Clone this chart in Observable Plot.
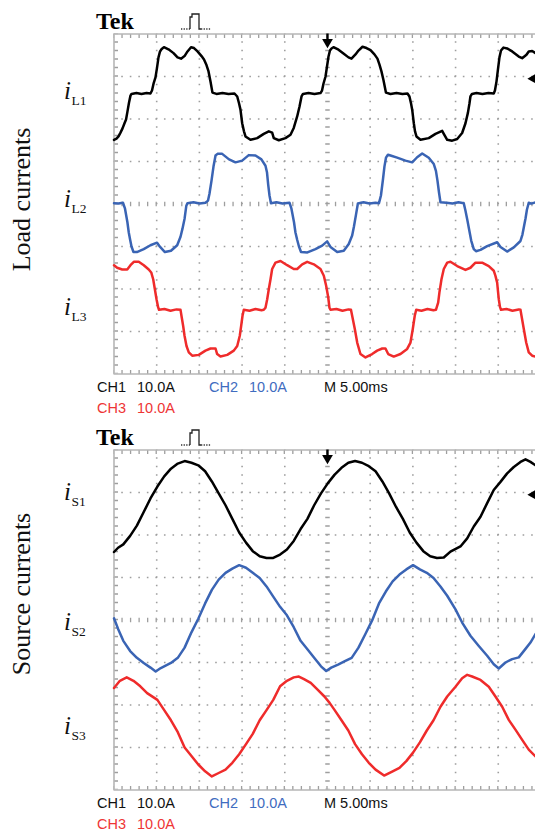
<!DOCTYPE html>
<html>
<head>
<meta charset="utf-8">
<script src="https://cdn.jsdelivr.net/npm/d3@7"></script>
<script src="https://cdn.jsdelivr.net/npm/@observablehq/plot@0.6"></script>
<style>
  html, body { margin: 0; padding: 0; background: #fff; width: 535px; height: 832px; overflow: hidden; }
  #page { position: relative; width: 535px; height: 832px; }
  #page svg { position: absolute; left: 0; }
</style>
</head>
<body>
<div id="page"></div>
<script>
// ---- Scope settings -------------------------------------------------------
const msPerDiv = 5;          // M 5.00ms
const ampsPerDiv = 10;       // 10.0A on every channel
const recordEnd = 49.36;     // ms visible up to the page edge
const channels = ["CH1", "CH2", "CH3"];
const channelScales = ["10.0A", "10.0A", "10.0A"];
const timebase = "M 5.00ms";
const channelColors = ["#000000", "#3a64b4", "#ef2b2b"];
const channelOffsets = [2.6, 0.02, -2.49]; // ground level of each trace, divisions
const triggerLevel = 3.5;    // A on CH1

// ---- Load currents [t ms, i A] ----------------------------------------------
const iL1 = [
  [0,-10.9],[0.29,-10.6],[0.53,-10.1],[0.76,-9.2],[1.00,-8.2],[1.23,-7.0],[1.41,-6.1],[1.58,-4.2],[1.76,-2.1],[1.93,-0.5],[2.05,-0.1],[2.63,0.1],[3.22,-0.1],[3.81,0.1],[4.27,0],
  [4.45,0.7],[4.63,2.3],[4.86,3.8],[5.04,6.1],[5.21,8.5],[5.39,9.9],[5.56,10.4],[5.85,10.9],[6.38,10.4],[6.97,9.5],[7.44,8.5],[7.85,8.2],[8.26,8.8],[8.61,9.9],[9.02,10.9],[9.37,10.7],[9.78,9.9],[10.25,8.8],[10.54,8.0],[10.83,6.7],[11.07,5.2],[11.30,2.8],[11.53,0.2],
  [12.00,-0.1],[12.70,0.1],[13.41,-0.1],[14.11,0],
  [14.43,-0.7],[14.64,-2.3],[14.81,-3.8],[15.01,-7.0],[15.22,-8.9],[15.40,-10.1],[15.98,-10.9],[16.77,-10.5],[17.54,-9.5],[18.13,-8.9],[18.52,-9.2],[18.71,-10.5],[19.30,-11.0],[20.08,-10.5],[20.67,-9.7],[21.05,-8.1],[21.45,-5.4],[21.72,-3.1],[21.96,-0.7],[22.13,-0.1],
  [22.78,0.1],[23.48,-0.1],[24.18,0.1],
  [24.36,0.7],[24.53,2.3],[24.77,4.0],[24.94,6.3],[25.12,8.7],[25.29,10.1],[25.47,10.6],[25.70,10.9],[26.29,10.3],[26.87,9.4],[27.46,8.5],[27.81,8.2],[28.28,9.2],[28.63,10.1],[29.10,11.0],[29.57,10.7],[30.04,10.2],[30.50,9.2],[30.85,8.2],[31.09,6.8],[31.32,5.2],[31.56,3.1],[31.85,0.2],
  [32.38,-0.1],[33.08,0.1],[33.78,-0.1],[34.37,0],
  [34.60,-0.7],[34.78,-2.3],[34.92,-3.8],[35.11,-7.0],[35.25,-8.9],[35.42,-10.1],[35.89,-10.9],[36.86,-10.5],[37.65,-9.5],[38.43,-8.8],[38.62,-9.5],[39.02,-10.9],[39.60,-11.1],[40.19,-10.7],[40.77,-9.3],[41.16,-7.0],[41.45,-4.5],[41.63,-2.3],[41.74,-0.7],[41.92,-0.1],
  [42.45,0.1],[43.15,-0.1],[43.85,0.1],[44.47,0],
  [44.61,0.7],[44.79,2.8],[44.96,5.6],[45.14,8.5],[45.32,10.1],[45.61,10.8],[46.04,10.6],[46.63,9.9],[47.40,8.7],[47.80,8.3],[48.30,9.1],[48.57,9.9],[48.97,10.0],[49.36,9.5]
];
const iL2 = [
  [0,0],[0.53,-0.1],[1.05,0.1],[1.29,-1.3],[1.57,-4.5],[1.73,-6.9],[1.89,-8.6],[2.05,-10.2],[2.28,-11.5],[2.68,-11.5],[3.48,-10.8],[4.27,-9.9],[5.04,-9.3],[5.40,-10.3],[5.96,-11.5],[6.67,-11.2],[7.40,-9.9],[7.79,-7.9],[8.02,-6.0],[8.27,-3.6],[8.47,-0.6],[8.61,0],
  [9.31,0.2],[10.01,-0.1],[10.71,0.1],
  [11.01,0.6],[11.18,2.2],[11.42,5.3],[11.65,8.6],[11.89,11.2],[12.12,11.6],[12.67,11.6],[13.47,10.3],[14.23,9.6],[15.01,10.0],[15.78,11.3],[16.57,11.2],[17.26,10.3],[17.74,8.8],[17.92,7.2],[18.06,4.3],[18.21,1.8],[18.38,0],
  [19.03,0.2],[19.73,-0.1],[20.55,0.1],
  [20.78,-1.3],[21.08,-4.5],[21.25,-6.9],[21.45,-8.6],[21.66,-10.2],[21.90,-11.5],[22.65,-11.6],[23.59,-10.8],[24.38,-10.0],[24.96,-9.0],[25.35,-10.3],[26.14,-11.5],[26.91,-11.2],[27.49,-9.6],[27.89,-7.6],[28.10,-5.5],[28.34,-2.7],[28.56,-0.1],
  [29.22,0.2],[29.92,-0.1],[30.62,0.1],[31.03,0],
  [31.26,1.8],[31.51,5.8],[31.67,8.6],[31.85,10.7],[32.08,11.4],[32.38,11.2],[33.16,10.7],[34.13,10.0],[34.92,9.6],[35.50,10.8],[36.09,11.7],[36.86,10.7],[37.45,9.2],[37.70,7.6],[37.88,5.3],[38.06,2.5],[38.23,0.2],
  [38.93,0.1],[39.64,-0.1],[40.34,0.2],[40.96,0],
  [41.16,-1.8],[41.39,-4.1],[41.57,-6.0],[41.83,-8.8],[42.13,-10.8],[42.39,-11.3],[42.92,-11.0],[43.70,-10.1],[44.87,-9.2],[45.26,-10.3],[46.04,-11.4],[46.82,-10.4],[47.60,-8.9],[47.83,-7.4],[48.01,-5.5],[48.19,-3.6],[48.36,-1.5],[48.57,0.1],[48.89,-0.1],[49.36,0.2]
];
const iL3 = [
  [0,10.5],[0.37,9.9],[0.96,9.5],[1.55,9.5],[1.93,10.5],[2.32,11.3],[2.90,11.3],[3.49,10.5],[4.07,9.5],[4.36,8.8],[4.59,7.2],[4.78,4.9],[4.98,2.5],[5.18,0.5],[5.27,0],
  [5.91,0.2],[6.62,-0.2],[7.32,0.1],[7.79,0],
  [7.90,-1.4],[8.10,-3.8],[8.26,-6.1],[8.49,-8.5],[8.76,-10.0],[9.16,-10.8],[9.93,-10.6],[10.71,-9.6],[11.30,-9.1],[11.89,-9.1],[12.08,-10.4],[12.47,-11.0],[13.26,-10.6],[14.03,-9.6],[14.43,-8.5],[14.73,-6.1],[14.89,-3.8],[15.05,-1.4],[15.20,0],
  [15.87,-0.2],[16.57,0.2],[17.27,-0.1],[17.54,0],
  [17.74,0.5],[17.94,2.5],[18.13,4.9],[18.33,7.2],[18.52,9.6],[18.91,11.1],[19.50,11.5],[20.28,10.5],[21.05,9.6],[21.45,9.6],[22.04,10.7],[22.62,11.3],[23.40,10.7],[24.18,9.6],[24.57,8.0],[24.85,5.6],[25.09,2.9],[25.23,0.5],[25.35,0],
  [26.05,0.2],[26.76,-0.2],[27.46,0.1],[27.75,0],
  [27.89,-1.4],[28.20,-4.5],[28.48,-7.7],[28.86,-10.4],[29.45,-11.2],[30.23,-10.4],[30.82,-9.6],[31.41,-9.1],[31.79,-9.1],[32.11,-10.4],[32.76,-11.0],[33.55,-10.4],[34.33,-9.2],[34.72,-7.7],[34.99,-4.5],[35.22,-1.4],[35.39,0],
  [36.01,-0.2],[36.71,0.2],[37.41,-0.1],[37.70,0],
  [37.96,1.7],[38.11,4.1],[38.35,7.2],[38.62,9.6],[39.02,11.1],[39.40,11.3],[40.19,10.3],[41.16,9.4],[41.74,9.9],[42.33,11.1],[43.11,11.1],[43.89,10.3],[44.47,9.2],[44.67,8.0],[44.87,6.4],[44.96,4.5],[45.06,2.5],[45.20,0.7],[45.32,0],
  [45.96,0.2],[46.66,-0.2],[47.40,0.1],[47.60,0],
  [47.72,-1.4],[47.99,-4.5],[48.27,-7.7],[48.57,-10.0],[48.97,-10.8],[49.36,-11.0]
];

// ---- Source currents [t ms, i A] --------------------------------------------
const iS1 = [
  [0,-10.0],[0.48,-9.0],[1.09,-8.2],[1.89,-6.2],[2.68,-3.8],[3.48,-0.6],[4.27,2.6],[5.08,5.4],[5.88,7.8],[6.67,9.6],[7.47,10.8],[8.27,11.4],[9.07,11.0],[9.87,10.4],[10.67,9.0],[11.46,6.6],[12.26,3.8],[13.06,1.0],[13.86,-2.2],[14.66,-5.4],[15.46,-7.8],[16.25,-9.8],[17.06,-11.0],[17.86,-11.4],[18.65,-11.4],[19.45,-10.6],[20.25,-9.4],[21.05,-7.4],[21.85,-4.6],[22.65,-2.2],[23.44,1.0],[24.24,3.8],[25.05,6.2],[25.84,8.2],[26.64,9.8],[27.44,11.0],[28.23,11.4],[29.04,11.0],[29.84,10.2],[30.63,9.0],[31.43,6.6],[32.22,3.8],[33.03,0.6],[33.83,-2.2],[34.63,-5.4],[35.42,-7.8],[36.22,-9.8],[37.03,-11.0],[37.82,-11.4],[38.62,-11.3],[39.40,-9.9],[40.57,-8.7],[41.36,-6.8],[42.13,-4.0],[42.92,-1.7],[43.70,1.5],[44.47,4.6],[45.26,6.5],[46.04,8.5],[46.82,10.0],[47.60,11.2],[48.19,11.8],[48.77,11.2],[49.36,10.4]
];
const iS2 = [
  [0,0.2],[0.48,-2.3],[1.09,-5.1],[1.89,-7.5],[2.68,-9.1],[3.48,-10.3],[4.27,-11.4],[4.88,-12.3],[5.48,-11.5],[6.67,-10.3],[7.47,-9.1],[8.27,-6.7],[9.07,-3.1],[9.87,0.1],[10.67,3.7],[11.46,6.9],[12.26,9.3],[13.06,10.9],[13.86,11.9],[14.66,12.7],[15.46,12.1],[16.25,10.9],[17.06,9.7],[17.86,7.7],[18.65,5.3],[19.45,2.9],[20.25,0.9],[21.05,-1.9],[21.85,-5.1],[22.65,-7.1],[23.44,-9.1],[24.24,-11.1],[24.85,-12.2],[25.44,-11.4],[26.24,-10.7],[27.04,-9.9],[27.83,-9.1],[28.63,-6.7],[29.44,-3.5],[30.23,-0.3],[31.03,3.7],[31.83,6.5],[32.63,8.9],[33.43,10.5],[34.23,11.7],[35.02,12.7],[35.82,11.7],[36.63,10.9],[37.42,9.7],[38.23,7.7],[39.02,5.5],[39.99,2.3],[40.77,-0.8],[41.74,-3.9],[42.72,-6.3],[43.70,-8.6],[44.47,-10.6],[45.06,-11.6],[45.84,-10.2],[46.63,-9.4],[47.40,-9.0],[48.19,-7.0],[48.77,-5.5],[49.36,-3.5]
];
const iS3 = [
  [0,8.9],[0.69,10.6],[1.49,11.4],[2.28,10.6],[3.08,9.3],[3.88,7.7],[5.08,6.1],[5.88,3.7],[6.67,1.3],[7.47,-1.5],[8.27,-5.1],[9.07,-7.1],[9.87,-9.1],[10.67,-10.7],[11.46,-11.9],[12.26,-11.1],[13.06,-10.3],[13.86,-8.7],[14.66,-6.7],[15.46,-4.3],[16.25,-1.9],[17.06,1.3],[17.86,3.7],[18.65,6.1],[19.45,9.3],[20.25,10.6],[21.05,11.4],[21.65,11.6],[22.25,11.0],[23.04,10.1],[23.84,8.5],[24.64,6.9],[25.25,5.4],[25.84,3.7],[26.64,1.3],[27.44,-1.1],[28.23,-4.3],[29.04,-6.7],[29.84,-8.7],[30.63,-10.3],[31.63,-11.7],[32.63,-10.7],[33.43,-9.9],[34.23,-8.3],[35.02,-6.3],[35.82,-3.9],[36.63,-1.1],[37.42,1.3],[38.23,4.5],[39.02,6.9],[39.99,9.2],[40.77,11.2],[41.36,12.0],[41.94,11.6],[42.92,10.8],[43.89,9.2],[44.67,6.9],[45.46,4.5],[46.23,1.4],[47.01,-0.9],[47.80,-3.3],[48.57,-5.6],[49.36,-7.2]
];

// ---- Labels ------------------------------------------------------------------
const loadNames = ["L1", "L2", "L3"];
const sourceNames = ["S1", "S2", "S3"];
const panelTitles = ["Load currents", "Source currents"];
const brand = "Tek";

// ---- Drawing ---------------------------------------------------------------------
const page = document.getElementById("page");
const gridGray = "#9e9e9e";
const borderGray = "#b6b6b6";
const PAD = 2.5;

function scope(traces, frameTop) {
  const table = traces.flatMap((series, k) =>
    series.map(([t, i]) => ({ch: channels[k], t, div: channelOffsets[k] + i / ampsPerDiv}))
  );
  const majorT = d3.range(msPerDiv, recordEnd, msPerDiv).filter(t => t !== 25);
  const majorY = [-3, -2, -1, 1, 2, 3];
  const chart = Plot.plot({
    width: 535,
    height: 340 + 2 * PAD,
    marginLeft: 113.5, marginRight: 0, marginTop: PAD, marginBottom: PAD,
    x: {domain: [0, recordEnd], axis: null},
    y: {domain: [-4, 4], axis: null},
    color: {domain: channels, range: channelColors},
    style: {background: "transparent", overflow: "visible"},
    marks: [
      // dotted graticule
      Plot.ruleX(majorT, {stroke: gridGray, strokeWidth: 1.6, strokeDasharray: "1.6,6.9", strokeDashoffset: 0.8}),
      Plot.ruleY(majorY, {stroke: gridGray, strokeWidth: 1.6, strokeDasharray: "1.6,6.94", strokeDashoffset: 0.8}),
      // centre cross with minor ticks
      Plot.ruleX([25], {stroke: gridGray, strokeWidth: 4.5, strokeDasharray: "1.3,7.2", strokeDashoffset: 0.65}),
      Plot.ruleY([0], {stroke: gridGray, strokeWidth: 4.5, strokeDasharray: "1.3,7.24", strokeDashoffset: 0.65}),
      // border and its minor ticks
      Plot.ruleY([4], {dy: 2, stroke: gridGray, strokeWidth: 4, strokeDasharray: "1.3,7.24", strokeDashoffset: 0.65}),
      Plot.ruleY([-4], {dy: -2, stroke: gridGray, strokeWidth: 4, strokeDasharray: "1.3,7.24", strokeDashoffset: 0.65}),
      Plot.ruleX([0], {dx: 2, stroke: gridGray, strokeWidth: 4, strokeDasharray: "1.3,7.2", strokeDashoffset: 0.65}),
      Plot.ruleY([4, -4], {stroke: borderGray, strokeWidth: 1.6}),
      Plot.ruleX([0], {stroke: borderGray, strokeWidth: 1.6}),
      // waveforms
      Plot.line(table, {x: "t", y: "div", z: "ch", stroke: "ch", strokeWidth: 2.5, strokeLinejoin: "round"}),
      // trigger position and level markers
      Plot.ruleX([25], {y1: 4, y2: 3.85, stroke: "#000", strokeWidth: 2.4}),
      Plot.dot([25], {x: d => d, y: 3.81, symbol: "triangle", r: 4, rotate: 180, fill: "#000", stroke: "none"}),
      Plot.dot([triggerLevel], {x: recordEnd, y: d => channelOffsets[0] + d / ampsPerDiv, dx: -3, symbol: "triangle", r: 3.3, rotate: -90, fill: "#000", stroke: "none"})
    ]
  });
  chart.style.top = (frameTop - PAD) + "px";
  page.appendChild(chart);
}

scope([iL1, iL2, iL3], 33.5);
scope([iS1, iS2, iS3], 449.5);

// Text annotations
const svg = d3.select(page).append("svg")
  .attr("width", 535).attr("height", 832).style("top", "0px");

const panels = [
  {shift: 0, names: loadNames, baselines: [99, 207, 315], title: panelTitles[0], titleY: 199.5},
  {shift: 416, names: sourceNames, baselines: [500, 630, 734], title: panelTitles[1], titleY: 594}
];

panels.forEach(p => {
  const s = p.shift;
  svg.append("text")
    .attr("x", 96).attr("y", 29 + s)
    .attr("font-family", "Liberation Serif, serif").attr("font-weight", "bold").attr("font-size", 24)
    .text(brand);
  // acquisition icon: dotted baseline with a pulse
  svg.append("path")
    .attr("d", `M181,${29 + s}H190M201,${29 + s}H211`)
    .attr("stroke", "#333").attr("stroke-width", 1.3).attr("stroke-dasharray", "1.3,1.3").attr("fill", "none");
  svg.append("path")
    .attr("d", `M190,${29 + s}V${17 + s}H192V${14 + s}H199V${29 + s}H201`)
    .attr("stroke", "#222").attr("stroke-width", 1.3).attr("fill", "none");

  // channel readout
  const row1 = 392 + s, row2 = 413 + s;
  const readout = [
    {x: 97, y: row1, s: channels[0], c: "#111"},
    {x: 137, y: row1, s: channelScales[0], c: "#111"},
    {x: 209, y: row1, s: channels[1], c: "#3f6cc0"},
    {x: 249, y: row1, s: channelScales[1], c: "#3f6cc0"},
    {x: 324, y: row1, s: timebase, c: "#111"},
    {x: 97, y: row2, s: channels[2], c: "#ee3535"},
    {x: 137, y: row2, s: channelScales[2], c: "#ee3535"}
  ];
  readout.forEach(r => svg.append("text")
    .attr("x", r.x).attr("y", r.y).attr("fill", r.c)
    .attr("font-family", "Liberation Sans, Arial, sans-serif").attr("font-size", 14.5)
    .text(r.s));

  // trace names
  p.names.forEach((n, k) => {
    const t = svg.append("text").attr("x", 64).attr("y", p.baselines[k])
      .attr("font-family", "Liberation Serif, serif").attr("fill", "#111");
    t.append("tspan").attr("font-style", "italic").attr("font-size", 25).text("i");
    t.append("tspan").attr("font-size", 13.5).attr("dx", 0.5).attr("dy", 6).text(n);
  });

  // side title
  svg.append("text")
    .attr("transform", `translate(30,${p.titleY}) rotate(-90)`)
    .attr("text-anchor", "middle")
    .attr("font-family", "Liberation Serif, serif").attr("font-size", 26).attr("fill", "#111")
    .text(p.title);
});
</script>
</body>
</html>
